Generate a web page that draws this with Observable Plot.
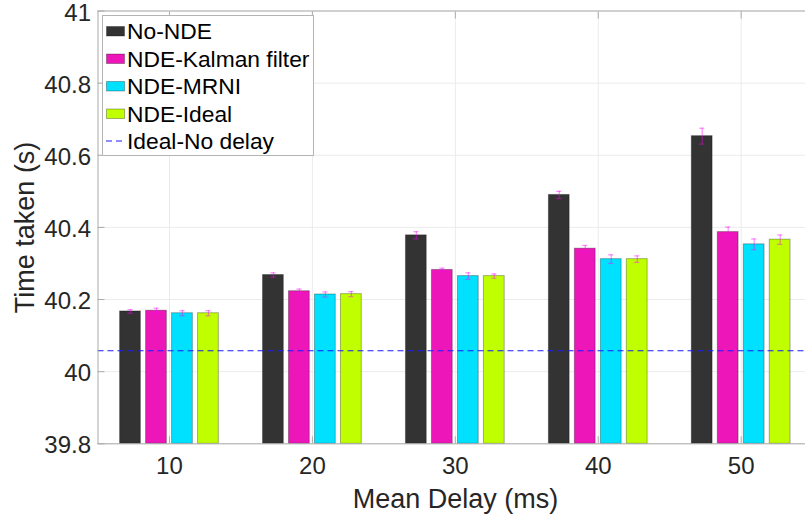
<!DOCTYPE html>
<html><head><meta charset="utf-8">
<script src="https://cdn.jsdelivr.net/npm/d3@7"></script>
<script src="https://cdn.jsdelivr.net/npm/@observablehq/plot@0.6"></script>
<style>
html,body{margin:0;padding:0;background:#fff;}
#wrap{position:relative;width:805px;height:519px;overflow:hidden;}
#wrap > svg{display:block}
</style></head><body><div id="wrap"></div>
<script>
const delays = [10, 20, 30, 40, 50];
const seriesNames = ["No-NDE", "NDE-Kalman filter", "NDE-MRNI", "NDE-Ideal"];
const seriesColors = ["#333333", "#ed17b9", "#00e1ff", "#bfff00"];
const noNDE  = [40.167, 40.268, 40.378, 40.490, 40.653];
const kalman = [40.169, 40.223, 40.282, 40.341, 40.387];
const mrni   = [40.162, 40.214, 40.265, 40.312, 40.353];
const ideal  = [40.162, 40.215, 40.265, 40.312, 40.366];
const noNDEErr  = [0.005, 0.006, 0.010, 0.010, 0.022];
const kalmanErr = [0.007, 0.006, 0.005, 0.009, 0.014];
const mrniErr   = [0.007, 0.007, 0.009, 0.012, 0.015];
const idealErr  = [0.007, 0.007, 0.006, 0.009, 0.013];
const idealNoDelay = 40.058;
const lineLabel = "Ideal-No delay";
const yTicks = [39.8, 40, 40.2, 40.4, 40.6, 40.8, 41];
const xLabel = "Mean Delay (ms)";
const yLabel = "Time taken (s)";

const values = [noNDE, kalman, mrni, ideal];
const errs = [noNDEErr, kalmanErr, mrniErr, idealErr];
const rows = delays.flatMap((d, g) => values.map((v, i) => ({
  delay: d, series: seriesNames[i], idx: i, value: v[g], err: errs[i][g]
})));

// MATLAB-style grouped bar geometry
const n = seriesNames.length;
const groupSpacing = delays[1] - delays[0];
const groupWidth = Math.min(0.8, n / (n + 1.5)) * groupSpacing;
const step = groupWidth / n;
const barW = 0.8 * step;
const capHalf = 0.18;
const center = d => d.delay + (d.idx - (n - 1) / 2) * step;
const yMin = yTicks[0], yMax = yTicks[yTicks.length - 1];

const axisGray = "#ababab";
const font = "'Liberation Sans', Arial, Helvetica, sans-serif";

const chart = Plot.plot({
  width: 805,
  height: 519,
  marginLeft: 97.5,
  marginRight: 0,
  marginTop: 10.5,
  marginBottom: 75.7,
  style: {fontFamily: font, background: "#fff", color: "#262626", overflow: "visible"},
  x: {domain: [5, 54.5], axis: null},
  y: {domain: [yMin, yMax], axis: null},
  color: {domain: seriesNames, range: seriesColors},
  marks: [
    Plot.gridX({ticks: delays, stroke: "#ebebeb", strokeOpacity: 1}),
    Plot.gridY({ticks: yTicks, stroke: "#ebebeb", strokeOpacity: 1}),
    Plot.rectY(rows, {
      x1: d => center(d) - barW / 2,
      x2: d => center(d) + barW / 2,
      y1: yMin, y2: "value",
      fill: "series", stroke: "#000", strokeOpacity: 0.3, strokeWidth: 1
    }),
    Plot.ruleX(rows, {x: center, y1: d => d.value - d.err, y2: d => d.value + d.err,
      stroke: "#ff00ff", strokeOpacity: 0.45, strokeWidth: 1.2}),
    Plot.ruleY(rows, {y: d => d.value - d.err, x1: d => center(d) - capHalf, x2: d => center(d) + capHalf,
      stroke: "#ff00ff", strokeOpacity: 0.45, strokeWidth: 1.2}),
    Plot.ruleY(rows, {y: d => d.value + d.err, x1: d => center(d) - capHalf, x2: d => center(d) + capHalf,
      stroke: "#ff00ff", strokeOpacity: 0.45, strokeWidth: 1.2}),
    Plot.ruleY([idealNoDelay], {stroke: "#1a1aff", strokeDasharray: "6,4", strokeWidth: 1.2}),
    // inward tick marks
    Plot.axisY({ticks: yTicks, anchor: "left", tickSize: 7, dx: 7, tickFormat: () => "", label: null, stroke: axisGray}),
    Plot.axisX({ticks: delays, anchor: "bottom", tickSize: 7, dy: -7, tickFormat: () => "", label: null, stroke: axisGray}),
    Plot.axisX({ticks: delays, anchor: "top", tickSize: 7, dy: 7, tickFormat: () => "", label: null, stroke: axisGray}),
    // tick labels
    Plot.axisY({ticks: yTicks, anchor: "left", tickSize: 0, tickPadding: 7, fontSize: 24, dy: 2,
      tickFormat: d => String(+d.toFixed(1)), label: null, fill: "#262626"}),
    Plot.axisX({ticks: delays, anchor: "bottom", tickSize: 0, tickPadding: 13.4, fontSize: 24,
      tickFormat: d => String(d), label: null, fill: "#262626"}),
    Plot.frame({stroke: axisGray, strokeWidth: 1}),
    Plot.text([yLabel], {frameAnchor: "left", rotate: -90, dx: -64.5, lineAnchor: "bottom",
      textAnchor: "middle", fontSize: 27, fill: "#262626"}),
    Plot.text([xLabel], {frameAnchor: "bottom", dx: 3.75, dy: 64.5, lineAnchor: "bottom",
      textAnchor: "middle", fontSize: 27, fill: "#262626"})
  ]
});
const wrap = document.getElementById("wrap");
wrap.appendChild(chart);

// Legend overlay (inside plot area, top-left)
const lg = d3.select(wrap).append("svg")
  .attr("width", 215).attr("height", 145)
  .style("position", "absolute").style("left", "102px").style("top", "15px")
  .style("font-family", font);
lg.append("rect").attr("x", 0.5).attr("y", 0.5).attr("width", 211).attr("height", 140)
  .attr("fill", "#fff").attr("stroke", "#b4b4b4");
const rowH = 27.5, base0 = 24;
seriesNames.forEach((s, i) => {
  lg.append("rect").attr("x", 4.5).attr("y", base0 - 12.5 + i * rowH).attr("width", 18).attr("height", 9.5)
    .attr("fill", seriesColors[i]).attr("stroke", "#000").attr("stroke-opacity", 0.3);
  lg.append("text").attr("x", 25).attr("y", base0 + i * rowH).attr("font-size", 22.8).attr("fill", "#000").text(s);
});
lg.append("line").attr("x1", 4).attr("x2", 23).attr("y1", base0 - 8 + 4 * rowH).attr("y2", base0 - 8 + 4 * rowH)
  .attr("stroke", "#1a1aff").attr("stroke-dasharray", "6,4").attr("stroke-width", 1.2);
lg.append("text").attr("x", 25).attr("y", base0 + 4 * rowH).attr("font-size", 22.8).attr("fill", "#000").text(lineLabel);
</script></body></html>
